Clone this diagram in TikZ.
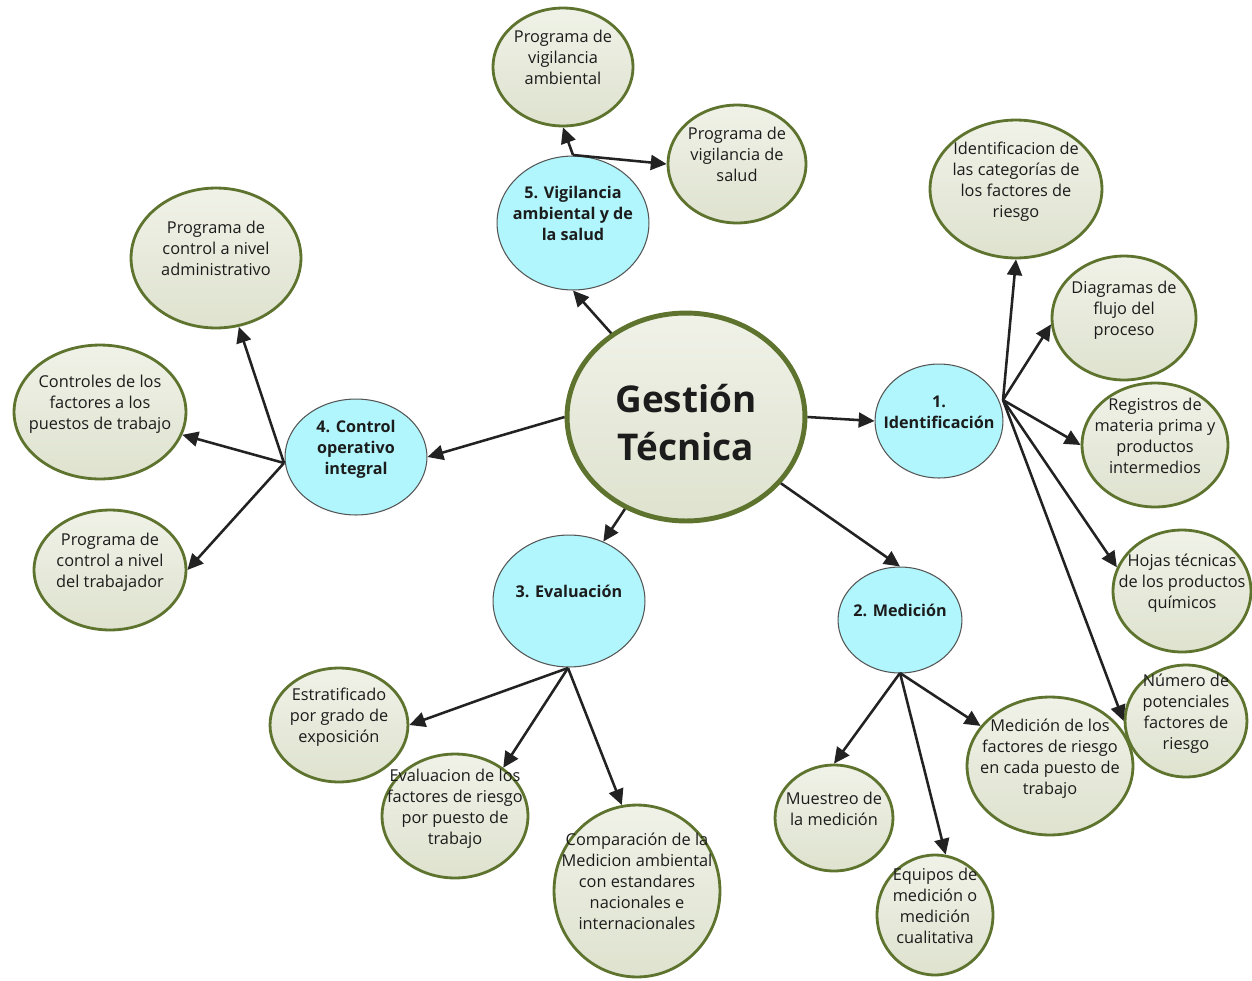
\documentclass[tikz,border=0pt]{standalone}
\usepackage{fontspec}
\setmainfont{Open Sans}
\usetikzlibrary{shapes.geometric,arrows.meta}
\definecolor{oledge}{RGB}{94,116,46}
\definecolor{oltop}{RGB}{240,242,232}
\definecolor{olbot}{RGB}{222,226,206}
\definecolor{cyfill}{RGB}{176,246,252}
\definecolor{cyedge}{RGB}{85,85,85}
\definecolor{arrc}{RGB}{34,34,34}
\definecolor{txt}{RGB}{28,28,28}
\newcommand\bubtext[1]{\makebox[0pt]{\raisebox{2pt}[0pt][0pt]{\begin{tabular}{@{}c@{}}#1\end{tabular}}}}
\begin{document}
\begin{tikzpicture}[x=0.02cm,y=-0.02cm,
  olv/.style 2 args={ellipse, draw=oledge, line width=1.6pt, top color=oltop, bottom color=olbot,
    minimum width=#1*0.04cm, minimum height=#2*0.04cm, inner sep=0pt, text=txt,
    font=\fontsize{9.3}{11.9}\selectfont},
  cyn/.style 2 args={ellipse, draw=cyedge, line width=0.6pt, fill=cyfill,
    minimum width=#1*0.04cm, minimum height=#2*0.04cm, inner sep=0pt, text=txt,
    font=\bfseries\fontsize{9.2}{11.9}\selectfont},
  arr/.style={draw=arrc, line width=1.45pt, -{Triangle[length=9pt,width=8.5pt]}}]
\useasboundingbox (0,0) rectangle (1252,981);

% central node
\node[olv={119}{104}, line width=2.8pt, font=\bfseries\fontsize{21}{27}\selectfont] (c) at (686,417) {\makebox[0pt]{\raisebox{-11pt}[0pt][0pt]{\begin{tabular}{@{}c@{}}Gestión\\Técnica\end{tabular}}}};

% level-1 nodes
\node[cyn={64}{57}] (n1) at (939,421) {\bubtext{1.\\Identificación}};
\node[cyn={62}{53}] (n2) at (900,620) {\bubtext{2. Medición}};
\node[cyn={76}{66}] (n3) at (569,601) {\bubtext{3. Evaluación}};
\node[cyn={71}{58}] (n4) at (356,457) {\bubtext{4. Control\\operativo\\integral}};
\node[cyn={76}{67}] (n5) at (573,223) {\bubtext{5. Vigilancia\\ambiental y de\\la salud}};

% leaves
\node[olv={70}{59}] (vamb) at (563,67) {\bubtext{Programa de\\vigilancia\\ambiental}};
\node[olv={69}{59}] (vsal) at (737,164) {\bubtext{Programa de\\vigilancia de\\salud}};

\node[olv={86}{69}] (cat) at (1016,189) {\bubtext{Identificacion de\\las categorías de\\los factores de\\riesgo}};
\node[olv={72}{62}] (diag) at (1124,318) {\bubtext{Diagramas de\\flujo del\\proceso}};
\node[olv={73}{62}] (reg) at (1155,445) {\bubtext{Registros de\\materia prima y\\productos\\intermedios}};
\node[olv={69}{61}] (hoj) at (1182,591) {\bubtext{Hojas técnicas\\de los productos\\químicos}};
\node[olv={61}{56}] (num) at (1186,721) {\bubtext{Número de\\potenciales\\factores de\\riesgo}};

\node[olv={83}{69}] (med) at (1050,766) {\bubtext{Medición de los\\factores de riesgo\\en cada puesto de\\trabajo}};
\node[olv={58}{60}] (equ) at (935,915) {\bubtext{Equipos de\\medición o\\medición\\cualitativa}};
\node[olv={59}{53}] (mue) at (834,818) {\bubtext{Muestreo de\\la medición}};

\node[olv={83}{86}] (comp) at (637,891) {\bubtext{Comparación de la\\Medicion ambiental\\con estandares\\nacionales e\\internacionales}};
\node[olv={73}{62}] (evf) at (455,816) {\bubtext{Evaluacion de los\\factores de riesgo\\por puesto de\\trabajo}};
\node[olv={69}{57}] (est) at (339,725) {\bubtext{Estratificado\\por grado de\\exposición}};

\node[olv={76}{60}] (trab) at (110,570) {\bubtext{Programa de\\control a nivel\\del trabajador}};
\node[olv={86}{67}] (ctrl) at (100,412) {\bubtext{Controles de los\\factores a los\\puestos de trabajo}};
\node[olv={85}{70}] (adm) at (216,258) {\bubtext{Programa de\\control a nivel\\administrativo}};

% hubs
\coordinate (h1) at (1003,400);
\coordinate (h2) at (900,673);
\coordinate (h3) at (568,668);
\coordinate (h4) at (284,463);
\coordinate (h5) at (573,155);

% central connectors
\draw[arr] (c.east) -- (n1.west);
\draw[arr] (c) -- (n2.north);
\draw[arr] (c) -- (n3.60);
\draw[arr] (c.west) -- (n4.east);
\draw[arr] (c) -- (n5.south);

% 5
\draw[arr] (h5) -- (vamb.south);
\draw[arr] (h5) -- (vsal.west);
% 1
\draw[arr] (h1) -- (cat.south);
\draw[arr] (h1) -- (diag.185);
\draw[arr] (h1) -- (reg.west);
\draw[arr] (h1) -- (hoj.160);
\draw[arr] (h1) -- (num.west);
% 2
\draw[arr] (h2) -- (mue.north);
\draw[arr] (h2) -- (equ.80);
\draw[arr] (h2) -- (med.150);
% 3
\draw[arr] (h3) -- (est.east);
\draw[arr] (h3) -- (evf.45);
\draw[arr] (h3) -- (comp.100);
% 4
\draw[arr] (h4) -- (adm);
\draw[arr] (h4) -- (ctrl);
\draw[arr] (h4) -- (trab.east);
\end{tikzpicture}
\end{document}
